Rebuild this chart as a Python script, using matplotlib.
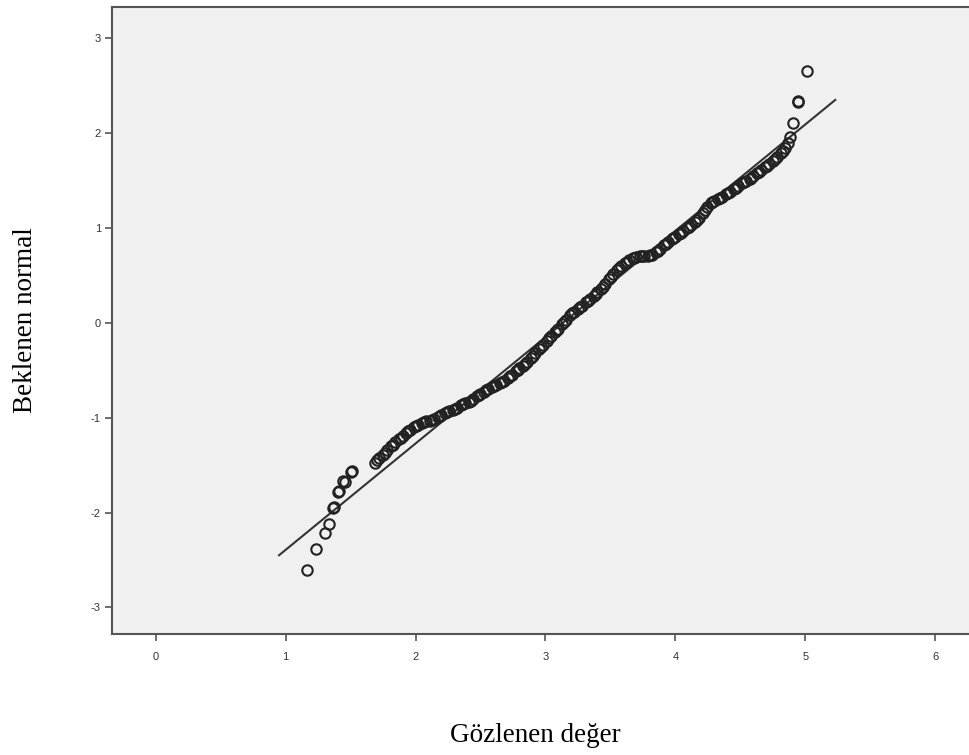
import matplotlib
matplotlib.use("Agg")
import matplotlib.pyplot as plt

plt.rcParams["axes.unicode_minus"] = False

# =================
# DANE (Q-Q)
# =================
gozlenen = [
    1.165, 1.235, 1.30, 1.335, 1.365, 1.37, 1.40, 1.41, 1.44, 1.46, 1.50, 1.51,
    1.69, 1.72, 1.75, 1.78, 1.81, 1.84, 1.87, 1.90, 1.93, 1.96, 1.99, 2.02,
    2.05, 2.08, 2.11, 2.14, 2.17, 2.20, 2.23, 2.26, 2.29, 2.32, 2.35, 2.38,
    2.41, 2.44, 2.47, 2.50, 2.53, 2.56, 2.59, 2.62, 2.65, 2.68, 2.71, 2.74,
    2.77, 2.80, 2.83, 2.86, 2.89, 2.92, 2.95, 2.98, 3.01, 3.04, 3.07, 3.10,
    3.13, 3.16, 3.19, 3.22, 3.25, 3.28, 3.31, 3.34, 3.37, 3.40, 3.43, 3.46,
    3.49, 3.52, 3.55, 3.58, 3.61, 3.64, 3.67, 3.70, 3.73, 3.76, 3.79, 3.82,
    3.85, 3.88, 3.91, 3.94, 3.97, 4.00, 4.03, 4.06, 4.09, 4.12, 4.15, 4.18,
    4.21, 4.24, 4.27, 4.30, 4.33, 4.36, 4.39, 4.42, 4.45, 4.48, 4.51, 4.54,
    4.57, 4.60, 4.63, 4.66, 4.69, 4.72, 4.75, 4.78, 4.81, 4.84, 4.87, 4.88,
    4.905, 4.94, 4.94, 5.01,
    # gęstsze punkty w środkowej części
    1.705, 1.765, 1.825, 1.885, 1.945, 2.005, 2.065, 2.125, 2.185, 2.245,
    2.305, 2.365, 2.425, 2.485, 2.545, 2.605, 2.665, 2.725, 2.785, 2.845,
    2.905, 2.965, 3.025, 3.085, 3.145, 3.205, 3.265, 3.325, 3.385, 3.445,
    3.505, 3.565, 3.625, 3.685, 3.745, 3.805, 3.865, 3.925, 3.985, 4.045,
    4.105, 4.165, 4.225, 4.285, 4.345, 4.405, 4.465, 4.525, 4.585, 4.645,
    4.705, 4.765, 4.825,
]
beklenen = [
    -2.61, -2.38, -2.22, -2.12, -1.95, -1.94, -1.78, -1.77, -1.67, -1.68, -1.57, -1.56,
    -1.48, -1.43, -1.39, -1.34, -1.30, -1.26, -1.22, -1.19, -1.16, -1.13, -1.10, -1.08,
    -1.06, -1.04, -1.03, -1.01, -0.99, -0.97, -0.95, -0.93, -0.92, -0.90, -0.87, -0.85,
    -0.83, -0.80, -0.77, -0.75, -0.73, -0.70, -0.68, -0.66, -0.63, -0.61, -0.58, -0.55,
    -0.51, -0.48, -0.45, -0.41, -0.37, -0.32, -0.28, -0.23, -0.19, -0.14, -0.10, -0.06,
    -0.01, 0.03, 0.08, 0.11, 0.15, 0.18, 0.22, 0.25, 0.28, 0.32, 0.36, 0.41,
    0.46, 0.51, 0.56, 0.60, 0.63, 0.66, 0.68, 0.69, 0.70, 0.70, 0.70, 0.72,
    0.75, 0.78, 0.82, 0.85, 0.88, 0.91, 0.94, 0.97, 1.00, 1.03, 1.06, 1.10,
    1.16, 1.22, 1.26, 1.28, 1.31, 1.33, 1.36, 1.38, 1.41, 1.44, 1.47, 1.49,
    1.52, 1.55, 1.58, 1.61, 1.64, 1.67, 1.71, 1.75, 1.79, 1.84, 1.90, 1.96,
    2.11, 2.33, 2.34, 2.65,
    -1.45, -1.37, -1.29, -1.21, -1.14, -1.09, -1.05, -1.02, -0.98, -0.94,
    -0.91, -0.86, -0.82, -0.76, -0.71, -0.67, -0.62, -0.56, -0.50, -0.43,
    -0.35, -0.25, -0.16, -0.08, 0.01, 0.10, 0.17, 0.23, 0.30, 0.38,
    0.48, 0.58, 0.64, 0.68, 0.70, 0.71, 0.76, 0.83, 0.89, 0.95,
    1.01, 1.08, 1.19, 1.27, 1.32, 1.37, 1.42, 1.48, 1.53, 1.59,
    1.65, 1.73, 1.81,
]

# linia odniesienia (końce)
linia_x = [0.95, 5.23]
linia_y = [-2.45, 2.35]

x_ticks = [0, 1, 2, 3, 4, 5, 6]
y_ticks = [-3, -2, -1, 0, 1, 2, 3]


# =================
# WYKRES
# =================
fig = plt.figure(figsize=(9.7, 7.55), dpi=100)
ax = fig.add_axes([0.1155, 0.1603, 0.893, 0.8305])
ax.set_facecolor("#f0f0f0")

ax.plot(linia_x, linia_y, color="#333333", linewidth=1.5, zorder=2)
ax.plot(gozlenen, beklenen, linestyle="none", marker="o", markersize=7.5,
        markerfacecolor="none", markeredgecolor="#222222", markeredgewidth=1.5, zorder=3)

ax.set_xlim(-0.335, 6.33)
ax.set_ylim(-3.28, 3.33)
ax.set_xticks(x_ticks)
ax.set_yticks(y_ticks)

for s in ["left", "bottom", "top"]:
    ax.spines[s].set_color("#555555")
    ax.spines[s].set_linewidth(1.5)
ax.spines["right"].set_visible(False)

ax.tick_params(axis="both", direction="out", length=5, width=1.2, color="#555555",
               labelsize=8, labelcolor="#333333")
ax.tick_params(axis="x", pad=8)
ax.tick_params(axis="y", pad=3)
for lbl in ax.get_xticklabels() + ax.get_yticklabels():
    lbl.set_family("Liberation Sans")

ax.set_ylabel("Beklenen normal", family="Liberation Serif", fontsize=19.5, labelpad=38)
fig.text(535 / 970, 1 - 735 / 755, "Gözlenen değer", family="Liberation Serif",
         fontsize=19.5, ha="center", va="center")

fig.savefig("out.png", dpi=100)
